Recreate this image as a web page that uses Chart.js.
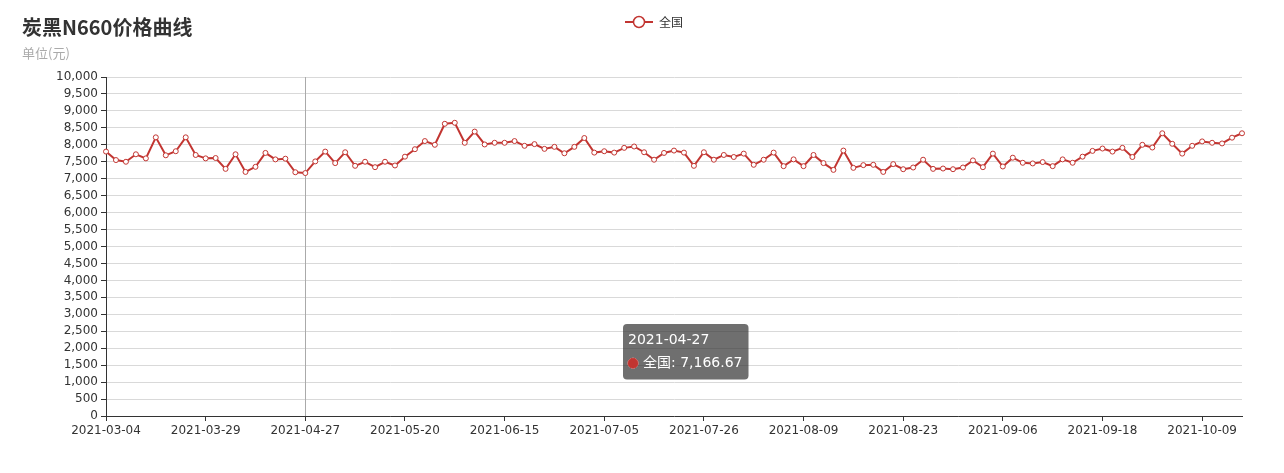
<!DOCTYPE html>
<html>
<head>
<meta charset="utf-8">
<script src="https://cdn.jsdelivr.net/npm/chart.js@4.4.0/dist/chart.umd.min.js"></script>
<style>
  body { margin: 0; background: #fff; }
  #wrap { width: 1284px; height: 473px; position: relative; }
</style>
</head>
<body>
<div id="wrap"><canvas id="chartCanvas" width="1284" height="473"></canvas></div>
<script>
// dates (month-day), year 2021
const days = [
  '03-04','03-05','03-08','03-10','03-12','03-15','03-17','03-19','03-22','03-25',
  '03-29','03-31','04-02','04-06','04-09','04-12','04-15','04-19','04-21','04-23',
  '04-27','04-29','05-06','05-08','05-10','05-12','05-13','05-14','05-17','05-18',
  '05-20','05-21','05-24','05-26','05-28','05-31','06-02','06-04','06-07','06-10',
  '06-15','06-16','06-18','06-21','06-22','06-24','06-25','06-28','06-29','07-01',
  '07-05','07-07','07-08','07-12','07-13','07-15','07-16','07-19','07-20','07-22',
  '07-26','07-27','07-28','07-29','07-30','08-02','08-03','08-04','08-05','08-06',
  '08-09','08-10','08-11','08-12','08-13','08-16','08-17','08-18','08-19','08-20',
  '08-23','08-24','08-25','08-26','08-27','08-30','08-31','09-01','09-02','09-03',
  '09-06','09-07','09-08','09-09','09-10','09-13','09-14','09-15','09-16','09-17',
  '09-18','09-22','09-23','09-24','09-26','09-27','09-28','09-29','09-30','10-08',
  '10-09','10-11','10-12','10-13','10-14'
];
const dates = days.map(d => '2021-' + d);

// 全国 price series
const national = [
  7800, 7550, 7500, 7720, 7600, 8220, 7690, 7810, 8220, 7700,
  7600, 7610, 7290, 7720, 7200, 7350, 7760, 7570, 7590, 7190,
  7166.67, 7510, 7800, 7460, 7780, 7380, 7500, 7340, 7500, 7390,
  7650, 7870, 8110, 8000, 8620, 8650, 8060, 8390, 8010, 8060,
  8060, 8110, 7970, 8020, 7880, 7940, 7750, 7940, 8200, 7770,
  7810, 7770, 7910, 7950, 7780, 7560, 7760, 7830, 7770, 7380,
  7780, 7560, 7700, 7640, 7740, 7410, 7560, 7770, 7370, 7570,
  7370, 7700, 7460, 7260, 7830, 7320, 7400, 7410, 7200, 7430,
  7280, 7330, 7560, 7290, 7300, 7280, 7330, 7540, 7340, 7740,
  7360, 7620, 7470, 7450, 7490, 7370, 7570, 7470, 7650, 7820,
  7890, 7800, 7910, 7640, 8000, 7920, 8340, 8030, 7740, 7970,
  8100, 8060, 8040, 8210, 8340
];

const hoverIndex = 20;
const red = '#c23531';
const fontStack = '"DejaVu Sans", "Noto Sans CJK SC", sans-serif';
const cjkStack = '"Noto Sans CJK SC", "DejaVu Sans", sans-serif';

Chart.Tooltip.positioners.fixedBox = function () {
  return { x: 627, y: 324 };
};

const decor = {
  id: 'decor',
  beforeDatasetsDraw(chart) {
    const { ctx, chartArea } = chart;
    const x = chart.scales.x.getPixelForValue(hoverIndex);
    ctx.save();
    ctx.strokeStyle = '#aaa';
    ctx.lineWidth = 1;
    ctx.beginPath();
    ctx.moveTo(Math.round(x) + 0.5, chartArea.top);
    ctx.lineTo(Math.round(x) + 0.5, chartArea.bottom);
    ctx.stroke();
    ctx.restore();
  },
  afterDraw(chart) {
    const ctx = chart.ctx;
    ctx.save();
    ctx.textBaseline = 'middle';
    ctx.fillStyle = '#333';
    ctx.font = 'bold 20px ' + cjkStack;
    ctx.fillText('炭黑N660价格曲线', 22, 27);
    ctx.fillStyle = '#aaa';
    ctx.font = '13px ' + cjkStack;
    ctx.fillText('单位(元)', 22, 53);

    // legend
    ctx.strokeStyle = red;
    ctx.lineWidth = 2;
    ctx.beginPath();
    ctx.moveTo(625, 22);
    ctx.lineTo(653, 22);
    ctx.stroke();
    ctx.fillStyle = '#fff';
    ctx.lineWidth = 1.5;
    ctx.beginPath();
    ctx.arc(639, 22, 5.5, 0, Math.PI * 2);
    ctx.fill();
    ctx.stroke();
    ctx.fillStyle = '#333';
    ctx.font = '12px ' + cjkStack;
    ctx.fillText('全国', 659, 22);
    ctx.restore();
  }
};

const chart = new Chart(document.getElementById('chartCanvas'), {
  type: 'line',
  data: {
    labels: dates,
    datasets: [{
      label: '全国',
      data: national,
      borderColor: red,
      backgroundColor: red,
      borderWidth: 2,
      tension: 0,
      pointRadius: 2.5,
      pointHoverRadius: 2.5,
      pointBorderWidth: 1,
      pointBackgroundColor: '#fff',
      pointBorderColor: red
    }]
  },
  options: {
    responsive: false,
    animation: false,
    events: [],
    layout: { padding: { top: 77, right: 42, bottom: 0, left: 0 } },
    scales: {
      x: {
        afterFit: s => { s.height = 57; },
        border: { color: '#333', width: 1 },
        grid: {
          drawOnChartArea: false,
          tickLength: 5,
          color: c => (c.index % 10 === 0 ? '#333' : 'rgba(0,0,0,0)')
        },
        ticks: {
          autoSkip: false,
          maxRotation: 0,
          padding: 3,
          color: '#333',
          font: { family: fontStack, size: 12 },
          callback: function (v, i) { return i % 10 === 0 ? this.getLabelForValue(v) : ''; }
        }
      },
      y: {
        min: 0,
        max: 10000,
        afterFit: s => { s.width = 106; },
        border: { color: '#333', width: 1 },
        grid: { color: '#d9d9d9', tickColor: '#333', tickLength: 5 },
        ticks: {
          stepSize: 500,
          autoSkip: false,
          padding: 3,
          color: '#333',
          font: { family: fontStack, size: 12 },
          callback: v => v.toLocaleString('en-US')
        }
      }
    },
    plugins: {
      legend: { display: false },
      title: { display: false },
      tooltip: {
        position: 'fixedBox',
        xAlign: 'left',
        yAlign: 'top',
        caretSize: 0,
        caretPadding: 0,
        cornerRadius: 4,
        backgroundColor: 'rgba(50,50,50,0.7)',
        padding: { left: 5, right: 6, top: 8, bottom: 8 },
        titleFont: { family: fontStack, size: 14, weight: 'normal' },
        bodyFont: { family: fontStack, size: 14, weight: 'normal' },
        titleMarginBottom: 6,
        titleColor: '#fff',
        bodyColor: '#fff',
        usePointStyle: true,
        boxWidth: 10,
        boxHeight: 10,
        boxPadding: 3,
        callbacks: {
          label: c => '全国: ' + c.parsed.y.toLocaleString('en-US', { maximumFractionDigits: 2 }),
          labelColor: () => ({ borderColor: red, backgroundColor: red }),
          labelPointStyle: () => ({ pointStyle: 'circle', rotation: 0 })
        }
      }
    }
  },
  plugins: [decor]
});

chart.tooltip.setActiveElements([{ datasetIndex: 0, index: hoverIndex }], { x: 0, y: 0 });
chart.update();
</script>
</body>
</html>
